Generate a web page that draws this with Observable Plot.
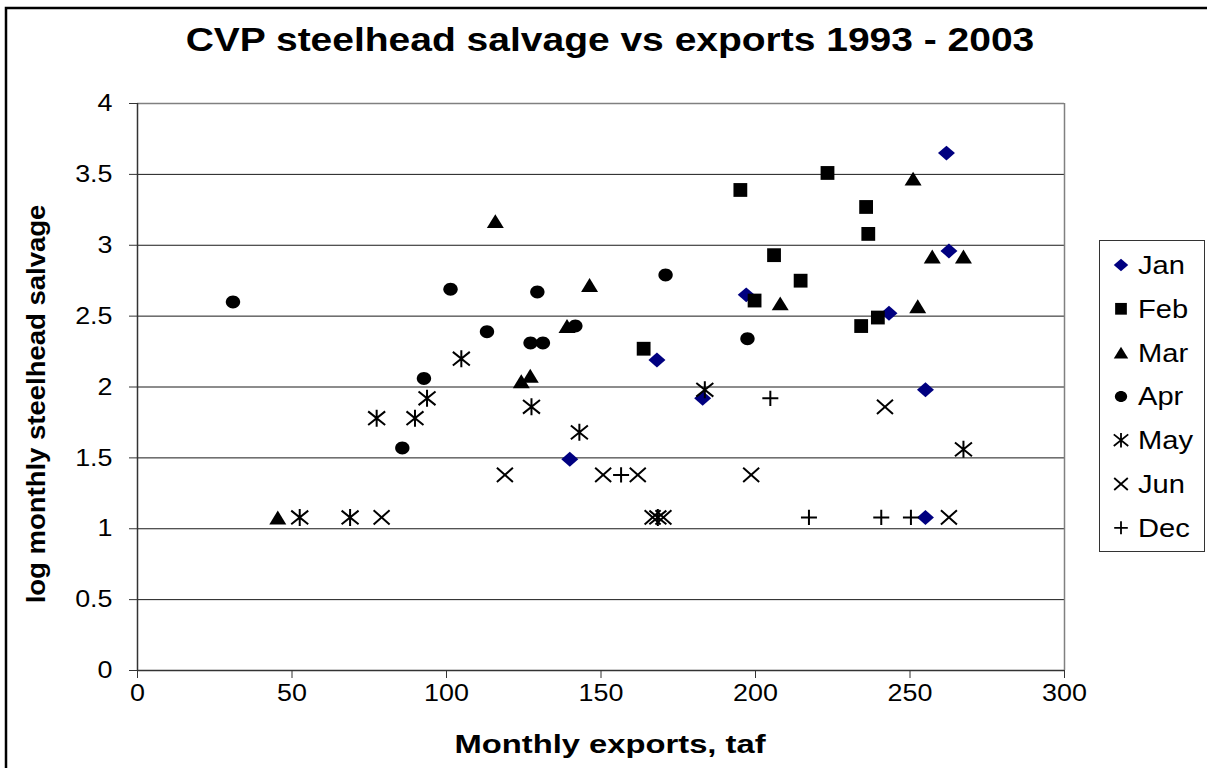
<!DOCTYPE html>
<html><head><meta charset="utf-8">
<script src="https://cdn.jsdelivr.net/npm/d3@7"></script>
<script src="https://cdn.jsdelivr.net/npm/@observablehq/plot@0.6"></script>
<style>html,body{margin:0;padding:0;background:#fff;overflow:hidden;}</style>
</head><body><div id="chart"></div>
<script>
// ---- data ----
const months = ["Jan", "Feb", "Mar", "Apr", "May", "Jun", "Dec"];
const janX = [261.8, 262.6, 197.0, 243.2, 168.1, 182.9, 255.0, 139.9, 255.0];
const janY = [3.65, 2.96, 2.65, 2.52, 2.19, 1.92, 1.98, 1.49, 1.08];
const febX = [195.1, 223.3, 235.8, 236.5, 206.0, 214.6, 199.7, 239.6, 234.2, 163.8];
const febY = [3.39, 3.51, 3.27, 3.08, 2.93, 2.75, 2.61, 2.49, 2.43, 2.27];
const marX = [115.8, 146.3, 139.0, 127.1, 124.2, 251.0, 257.2, 267.3, 208.0, 252.5, 45.4];
const marY = [3.17, 2.72, 2.43, 2.08, 2.04, 3.47, 2.92, 2.92, 2.59, 2.57, 1.08];
const aprX = [30.9, 101.3, 129.4, 113.1, 141.7, 127.2, 131.2, 92.7, 170.9, 197.4, 85.7];
const aprY = [2.60, 2.69, 2.67, 2.39, 2.43, 2.31, 2.31, 2.06, 2.79, 2.34, 1.57];
const mayX = [104.8, 93.7, 77.4, 89.8, 127.5, 143.0, 52.5, 68.8, 183.6, 267.3, 168.4];
const mayY = [2.20, 1.92, 1.78, 1.78, 1.86, 1.68, 1.08, 1.08, 1.98, 1.56, 1.08];
const junX = [79.0, 118.9, 150.7, 161.9, 198.6, 241.9, 166.7, 170.2, 262.6];
const junY = [1.08, 1.38, 1.38, 1.38, 1.38, 1.86, 1.08, 1.08, 1.08];
const decX = [204.8, 156.5, 217.3, 240.7, 250.3];
const decY = [1.92, 1.38, 1.08, 1.08, 1.08];
const xTicks = [0, 50, 100, 150, 200, 250, 300];
const yTicks = [0, 0.5, 1, 1.5, 2, 2.5, 3, 3.5, 4];
const titleText = "CVP steelhead salvage vs exports 1993 - 2003";
const xLabel = "Monthly exports, taf";
const yLabel = "log monthly steelhead salvage";

const seriesData = {
  Jan: [janX, janY], Feb: [febX, febY], Mar: [marX, marY], Apr: [aprX, aprY],
  May: [mayX, mayY], Jun: [junX, junY], Dec: [decX, decY]
};

// ---- symbols ----
const rr = s => Math.sqrt(s / Math.PI);
const SYM = {
  diamond: {draw(c, s) { const r = rr(s), h = r * 0.88; c.moveTo(0, -h); c.lineTo(r, 0); c.lineTo(0, h); c.lineTo(-r, 0); c.closePath(); }},
  square: {draw(c, s) { const r = rr(s); c.rect(-r, -r, 2 * r, 2 * r); }},
  triangle: {draw(c, s) { const r = rr(s), h = r * 0.82; c.moveTo(0, -h); c.lineTo(r, h); c.lineTo(-r, h); c.closePath(); }},
  circle: {draw(c, s) {
    const a = rr(s), b = a * 0.9, k = 0.5523;
    c.moveTo(a, 0);
    c.bezierCurveTo(a, b * k, a * k, b, 0, b);
    c.bezierCurveTo(-a * k, b, -a, b * k, -a, 0);
    c.bezierCurveTo(-a, -b * k, -a * k, -b, 0, -b);
    c.bezierCurveTo(a * k, -b, a, -b * k, a, 0);
    c.closePath();
  }},
  asterisk: {draw(c, s) { const r = rr(s), h = r * 0.8; c.moveTo(0, -r); c.lineTo(0, r); c.moveTo(-r, -h); c.lineTo(r, h); c.moveTo(r, -h); c.lineTo(-r, h); }},
  times: {draw(c, s) { const r = rr(s), h = r * 0.88; c.moveTo(-r, -h); c.lineTo(r, h); c.moveTo(r, -h); c.lineTo(-r, h); }},
  plus: {draw(c, s) { const r = rr(s), h = r * 0.95; c.moveTo(-r, 0); c.lineTo(r, 0); c.moveTo(0, -h); c.lineTo(0, h); }}
};
const seriesStyle = {
  Jan: {sym: SYM.diamond, r: 8.5, fill: "#000080"},
  Feb: {sym: SYM.square, r: 6.9, fill: "#000"},
  Mar: {sym: SYM.triangle, r: 8.5, fill: "#000"},
  Apr: {sym: SYM.circle, r: 7.2, fill: "#000"},
  May: {sym: SYM.asterisk, r: 8.5, stroke: "#000"},
  Jun: {sym: SYM.times, r: 8, stroke: "#000"},
  Dec: {sym: SYM.plus, r: 8, stroke: "#000"}
};

const FONT = "'Liberation Sans', Arial, sans-serif";
const SX = 1.12;

const dotMarks = months.map(m => {
  const [xs, ys] = seriesData[m];
  const rows = xs.map((x, i) => ({x, y: ys[i], month: m}));
  const st = seriesStyle[m];
  return Plot.dot(rows, {
    x: "x", y: "y", symbol: st.sym, r: st.r,
    fill: st.fill || "none", stroke: st.stroke || "none", strokeWidth: 2
  });
});

const plot = Plot.plot({
  width: 1207, height: 768,
  marginLeft: 137, marginRight: 143, marginTop: 103, marginBottom: 98,
  x: {domain: [0, 300], label: null},
  y: {domain: [0, 4], label: null},
  style: {fontFamily: FONT, fontSize: "24px", color: "#000", background: "#fff"},
  marks: [
    Plot.ruleY(yTicks.filter(d => d > 0 && d < 4), {stroke: "#1a1a1a", strokeWidth: 1}),
    Plot.ruleY([4], {stroke: "#808080", strokeWidth: 1.5}),
    Plot.ruleX([300], {stroke: "#808080", strokeWidth: 1.5}),
    Plot.ruleX([0], {stroke: "#333", strokeWidth: 1.5}),
    Plot.ruleY([0], {stroke: "#333", strokeWidth: 1.5}),
    Plot.axisX({ticks: xTicks, tickSize: 8, tickPadding: 5, fontSize: 24, stroke: "#333", tickFormat: d => String(d), label: null}),
    Plot.axisY({ticks: yTicks, tickSize: 8, tickPadding: 17, fontSize: 24, stroke: "#333", tickFormat: d => String(d), label: null}),
    ...dotMarks
  ]
});
document.getElementById("chart").appendChild(plot);

const svg = d3.select(plot);
// widen tick labels like the reference
svg.selectAll('g[aria-label="x-axis tick label"] text, g[aria-label="y-axis tick label"] text')
  .attr("transform", function() { return (this.getAttribute("transform") || "") + ` scale(${SX},1)`; });

// outer chart frame (left and top edges visible)
svg.append("path").attr("d", "M6,768V8H1207").attr("fill", "none").attr("stroke", "#000").attr("stroke-width", 2.5);

function addText(txt, x, y, size, weight, sx, anchor, rot) {
  svg.append("text")
    .attr("transform", `translate(${x},${y})${rot ? ` rotate(${rot})` : ""} scale(${sx},1)`)
    .attr("text-anchor", anchor)
    .style("font-family", FONT).style("font-size", size + "px").style("font-weight", weight)
    .attr("fill", "#000")
    .text(txt);
}
addText(titleText, 610, 51, 32.5, "bold", 1.2, "middle");
addText(xLabel, 610, 753, 26, "bold", 1.26, "middle");
addText(yLabel, 45, 404, 25, "bold", 1.1, "middle", -90);

// legend
const lg = svg.append("g");
lg.append("rect").attr("x", 1099.5).attr("y", 240.5).attr("width", 105).attr("height", 311)
  .attr("fill", "#fff").attr("stroke", "#333").attr("stroke-width", 1);
months.forEach((m, i) => {
  const st = seriesStyle[m];
  const cy = 265 + i * 43.8;
  lg.append("path")
    .attr("d", d3.symbol(st.sym, Math.PI * Math.pow(st.r * 0.85, 2))())
    .attr("transform", `translate(1121,${cy})`)
    .attr("fill", st.fill || "none").attr("stroke", st.stroke || "none").attr("stroke-width", 1.8);
  lg.append("text")
    .attr("transform", `translate(1138,${cy + 9}) scale(${SX},1)`)
    .attr("text-anchor", "start")
    .style("font-family", FONT).style("font-size", "26px")
    .attr("fill", "#000")
    .text(m);
});
</script>
</body></html>
